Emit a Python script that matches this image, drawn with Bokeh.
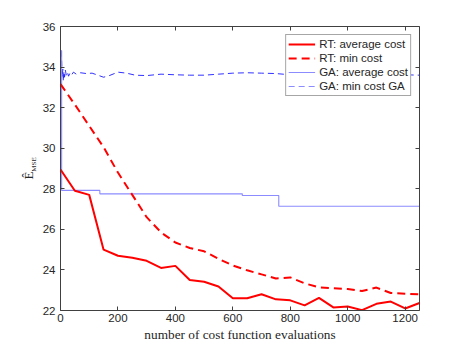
from bokeh.plotting import figure
from bokeh.models import LinearAxis, Legend, LegendItem, FixedTicker, Range1d
from bokeh.embed import file_html
from bokeh.resources import INLINE

# ---- data ----
rt_x = [0, 50, 100, 150, 200, 250, 300, 350, 400, 450, 500, 550, 600, 650,
        700, 750, 800, 850, 900, 950, 1000, 1050, 1100, 1150, 1200, 1250]
rt_avg = [28.95, 27.9, 27.7, 25.0, 24.7, 24.6, 24.45, 24.1, 24.2, 23.5, 23.42, 23.18,
          22.6, 22.6, 22.8, 22.55, 22.5, 22.25, 22.62, 22.15, 22.2, 22.02, 22.33,
          22.44, 22.1, 22.37]
rt_min = [33.16, 32.15, 31.1, 30.05, 28.8, 27.7, 26.6, 25.85, 25.35, 25.08, 24.92,
          24.55, 24.22, 23.98, 23.78, 23.58, 23.63, 23.34, 23.14, 23.1, 23.06, 22.96,
          23.13, 22.86, 22.83, 22.8]
ga_min_x = [0, 2, 4, 6, 8, 10, 12, 14, 17, 20, 24, 28, 33, 38, 45, 55, 70, 90, 110,
            130, 150, 170, 200, 230, 260, 300, 350, 400, 450, 500, 550, 600, 650,
            700, 750, 800, 850, 900, 950, 1000, 1050, 1100, 1150, 1200, 1250]
ga_min = [34.0, 34.9, 34.3, 33.5, 33.9, 33.3, 33.8, 33.5, 33.85, 33.6, 33.75, 33.55,
          33.7, 33.6, 33.75, 33.65, 33.72, 33.68, 33.7, 33.6, 33.5, 33.58, 33.75,
          33.7, 33.6, 33.58, 33.65, 33.62, 33.6, 33.6, 33.65, 33.7, 33.72, 33.7,
          33.68, 33.62, 33.65, 33.6, 33.63, 33.65, 33.62, 33.6, 33.65, 33.62, 33.6]
ga_avg_x = [0, 4, 137, 633, 760, 1250]
ga_avg = [34.8, 27.92, 27.75, 27.67, 27.14, 27.14]
x_ticks = [0, 200, 400, 600, 800, 1000, 1200]
y_ticks = [22, 24, 26, 28, 30, 32, 34, 36]
legend_labels = ["RT: average cost", "RT: min cost", "GA: average cost", "GA: min cost GA"]
x_title = "number of cost function evaluations"
y_title_main = "Ê"
y_title_sub = "MSE"

AX = "#404040"
TXT = "#262626"
NAN = float("nan")

p = figure(width=461, height=346, output_backend="svg", toolbar_location=None,
           x_range=Range1d(0, 1250), y_range=Range1d(22, 36),
           min_border_left=60, min_border_right=42, min_border_top=26,
           min_border_bottom=36)
bottom = p.below[0]
left = p.left[0]
p.grid.visible = False
p.outline_line_color = None
p.background_fill_color = "white"
# pixel-like range used only to place the y title pieces along the left side
p.extra_y_ranges = {"lab": Range1d(0, 284)}

top = LinearAxis()
right = LinearAxis()
p.add_layout(top, "above")
p.add_layout(right, "right")

for ax in [bottom, top]:
    ax.ticker = FixedTicker(ticks=x_ticks)
for ax in [left, right]:
    ax.ticker = FixedTicker(ticks=y_ticks)
for ax in [bottom, left, top, right]:
    ax.major_tick_in = 4
    ax.major_tick_out = 0
    ax.minor_tick_line_color = None
    ax.axis_line_color = AX
    ax.major_tick_line_color = AX
    ax.axis_line_width = 1
    ax.major_label_text_font = "Liberation Sans"
    ax.major_label_text_font_size = "11.5px"
    ax.major_label_text_color = TXT
top.major_label_overrides = {t: "" for t in x_ticks}
right.major_label_overrides = {t: "" for t in y_ticks}
top.major_label_standoff = 0
right.major_label_standoff = 0
bottom.major_label_standoff = 3
left.major_label_standoff = 5

bottom.axis_label = x_title
bottom.axis_label_standoff = 2
bottom.axis_label_text_font = "Liberation Serif"
bottom.axis_label_text_font_size = "13.3px"
bottom.axis_label_text_font_style = "normal"
bottom.axis_label_text_color = TXT

# y title: main letter and subscript as labels of two tick-less axes
sub_ax = LinearAxis(y_range_name="lab", ticker=FixedTicker(ticks=[146]),
                    major_label_overrides={146: y_title_sub})
main_ax = LinearAxis(y_range_name="lab", ticker=FixedTicker(ticks=[135]),
                     major_label_overrides={135: y_title_main})
for ax, size, stand in [(sub_ax, "7px", 2), (main_ax, "13px", -9)]:
    ax.axis_line_color = None
    ax.major_tick_line_color = None
    ax.minor_tick_line_color = None
    ax.major_tick_out = 0
    ax.major_tick_in = 0
    ax.major_label_orientation = "vertical"
    ax.major_label_standoff = stand
    ax.major_label_text_font = "Liberation Serif"
    ax.major_label_text_font_size = size
    ax.major_label_text_color = TXT
p.add_layout(sub_ax, "left")
p.add_layout(main_ax, "left")

r_min_ga = p.line(ga_min_x, ga_min, line_color="#1a1aff", line_width=0.9, line_dash="6 4")
r_avg_ga = p.step(ga_avg_x, ga_avg, mode="after", line_color="#8c8cff", line_width=1.1)
r_min_rt = p.line(rt_x, rt_min, line_color="#ff0000", line_width=2, line_dash="8 5")
r_avg_rt = p.line(rt_x, rt_avg, line_color="#ff0000", line_width=2)
proxy = p.line([0, 0], [NAN, NAN], line_color="#8c8cff", line_width=1.1, line_dash="6 4")

legend = Legend(items=[
    LegendItem(label=legend_labels[0], renderers=[r_avg_rt]),
    LegendItem(label=legend_labels[1], renderers=[r_min_rt]),
    LegendItem(label=legend_labels[2], renderers=[r_avg_ga]),
    LegendItem(label=legend_labels[3], renderers=[proxy]),
], location="top_right")
legend.margin = 8
legend.padding = 2
legend.spacing = 0
legend.glyph_width = 27
legend.glyph_height = 14
legend.label_height = 14
legend.label_standoff = 4
legend.label_text_font = "Liberation Sans"
legend.label_text_font_size = "11.5px"
legend.label_text_color = TXT
legend.border_line_color = "#4d4d4d"
legend.border_line_width = 0.8
legend.background_fill_alpha = 1
p.add_layout(legend)

open("out.html", "w").write(file_html(p, INLINE))
